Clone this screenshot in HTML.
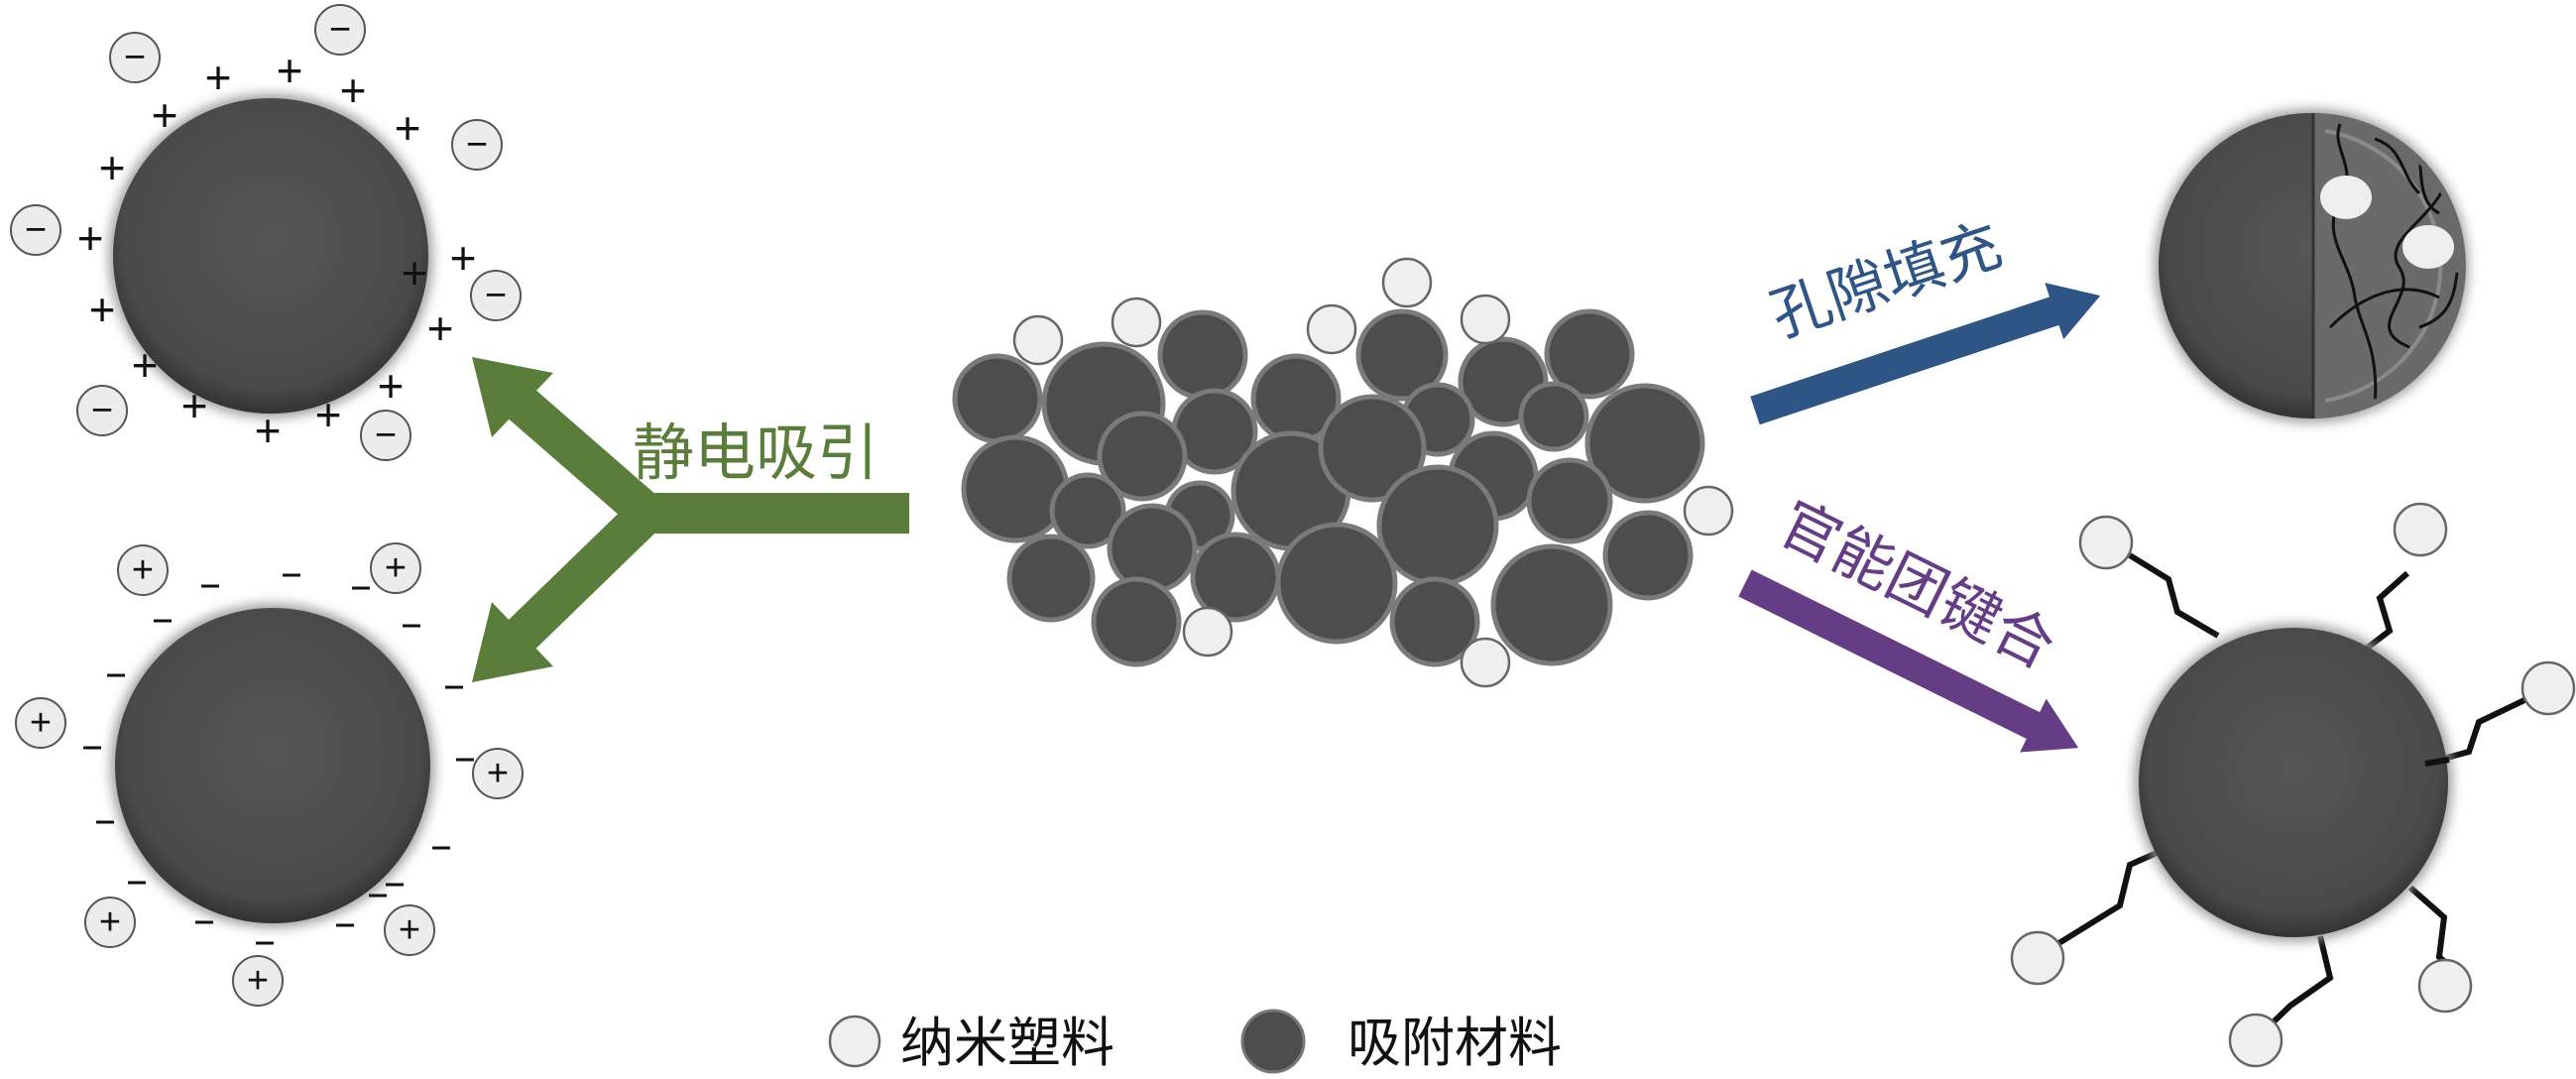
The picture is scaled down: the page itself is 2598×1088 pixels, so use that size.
<!DOCTYPE html>
<html><head><meta charset="utf-8"><style>
html,body{margin:0;padding:0;background:#fff;}
svg{display:block;}
text{font-family:"Liberation Sans","Noto Sans CJK SC",sans-serif;}
</style></head><body>
<svg width="2598" height="1088" viewBox="0 0 2598 1088" xmlns="http://www.w3.org/2000/svg">
<defs>
<radialGradient id="sph" cx="50%" cy="45%" r="55%">
<stop offset="0" stop-color="#565656"/><stop offset="0.85" stop-color="#4a4a4a"/><stop offset="1" stop-color="#333"/>
</radialGradient>
<filter id="glow" x="-20%" y="-20%" width="140%" height="140%"><feGaussianBlur stdDeviation="6"/></filter>
<clipPath id="rc"><path d="M2333,120 A148,148 0 0 1 2333,416 Z"/></clipPath>
</defs>

<!-- left spheres -->
<circle cx="273" cy="258" r="163" fill="#999" filter="url(#glow)"/>
<circle cx="273" cy="258" r="159" fill="url(#sph)"/>
<circle cx="275" cy="772" r="163" fill="#999" filter="url(#glow)"/>
<circle cx="275" cy="772" r="159" fill="url(#sph)"/>

<g font-size="46" fill="#111" text-anchor="middle" dominant-baseline="central">
<text x="166" y="116">+</text><text x="220" y="78">+</text><text x="292" y="71">+</text><text x="356" y="91">+</text><text x="411" y="129">+</text>
<text x="113" y="169">+</text><text x="91" y="240">+</text><text x="103" y="312">+</text><text x="146" y="368">+</text><text x="196" y="409">+</text>
<text x="270" y="434">+</text><text x="331" y="418">+</text><text x="394" y="389">+</text><text x="418" y="275">+</text><text x="467" y="260">+</text><text x="444" y="331">+</text>
</g>
<g fill="#ececec" stroke="#555" stroke-width="2">
<circle cx="136" cy="58" r="25"/><circle cx="343" cy="30" r="25"/><circle cx="481" cy="146" r="25"/><circle cx="36" cy="232" r="25"/>
<circle cx="500" cy="298" r="25"/><circle cx="103" cy="414" r="25"/><circle cx="389" cy="439" r="25"/>
<circle cx="144" cy="575" r="25"/><circle cx="399" cy="573" r="25"/><circle cx="41" cy="729" r="25"/><circle cx="502" cy="780" r="25"/>
<circle cx="111" cy="930" r="25"/><circle cx="413" cy="938" r="25"/><circle cx="260" cy="989" r="25"/>
</g>
<g font-size="38" fill="#111" text-anchor="middle" dominant-baseline="central">
<text x="136" y="58">−</text><text x="343" y="30">−</text><text x="481" y="146">−</text><text x="36" y="232">−</text>
<text x="500" y="298">−</text><text x="103" y="414">−</text><text x="389" y="439">−</text>
<text x="144" y="575">+</text><text x="399" y="573">+</text><text x="41" y="729">+</text><text x="502" y="780">+</text>
<text x="111" y="930">+</text><text x="413" y="938">+</text><text x="260" y="989">+</text>
</g>
<g stroke="#111" stroke-width="3">
<line x1="203" y1="591" x2="221" y2="591"/><line x1="285" y1="580" x2="303" y2="580"/><line x1="355" y1="593" x2="373" y2="593"/>
<line x1="155" y1="626" x2="173" y2="626"/><line x1="406" y1="631" x2="424" y2="631"/><line x1="108" y1="681" x2="126" y2="681"/>
<line x1="449" y1="693" x2="467" y2="693"/><line x1="84" y1="754" x2="102" y2="754"/><line x1="460" y1="766" x2="478" y2="766"/>
<line x1="97" y1="829" x2="115" y2="829"/><line x1="436" y1="855" x2="454" y2="855"/><line x1="129" y1="890" x2="147" y2="890"/>
<line x1="389" y1="892" x2="407" y2="892"/><line x1="197" y1="930" x2="215" y2="930"/><line x1="258" y1="951" x2="276" y2="951"/>
<line x1="339" y1="933" x2="357" y2="933"/><line x1="372" y1="903" x2="390" y2="903"/>
</g>

<!-- green Y arrow -->
<g fill="#5b7d3c">
<rect x="640" y="497" width="277" height="41"/>
<line x1="652" y1="517" x2="520" y2="402" stroke="#5b7d3c" stroke-width="40"/>
<line x1="652" y1="518" x2="520" y2="646" stroke="#5b7d3c" stroke-width="40"/>
<polygon points="476,360 558,376 496,441"/>
<polygon points="476,688 558,672 496,607"/>
</g>
<text x="638" y="478" font-size="62" fill="#5b7d3c">静电吸引</text>

<!-- cluster -->
<g fill="#4d4d4d" stroke="#7a7a7a" stroke-width="5">
<circle cx="1006" cy="402" r="43"/><circle cx="1113" cy="407" r="60"/><circle cx="1213" cy="358" r="43"/>
<circle cx="1225" cy="435" r="41"/><circle cx="1307" cy="402" r="43"/><circle cx="1414" cy="358" r="44"/>
<circle cx="1516" cy="385" r="43"/><circle cx="1603" cy="357" r="43"/><circle cx="1567" cy="420" r="33"/>
<circle cx="1450" cy="423" r="35"/><circle cx="1152" cy="460" r="43"/><circle cx="1024" cy="493" r="52"/>
<circle cx="1302" cy="495" r="58"/><circle cx="1384" cy="452" r="52"/><circle cx="1659" cy="447" r="58"/>
<circle cx="1097" cy="515" r="36"/><circle cx="1210" cy="520" r="33"/><circle cx="1506" cy="480" r="43"/>
<circle cx="1583" cy="505" r="41"/><circle cx="1450" cy="530" r="59"/><circle cx="1162" cy="553" r="43"/>
<circle cx="1060" cy="583" r="42"/><circle cx="1246" cy="582" r="43"/><circle cx="1662" cy="560" r="43"/>
<circle cx="1146" cy="627" r="43"/><circle cx="1348" cy="588" r="59"/><circle cx="1447" cy="627" r="43"/>
<circle cx="1565" cy="610" r="59"/>
</g>
<g fill="#efefef" stroke="#666" stroke-width="2.5">
<circle cx="1047" cy="343" r="24"/><circle cx="1146" cy="325" r="24"/><circle cx="1343" cy="332" r="24"/>
<circle cx="1419" cy="285" r="24"/><circle cx="1498" cy="322" r="24"/><circle cx="1723" cy="515" r="24"/>
<circle cx="1218" cy="637" r="24"/><circle cx="1498" cy="668" r="24"/>
</g>

<!-- blue arrow -->
<g transform="translate(1770,414) rotate(-18.4)" fill="#2f5486">
<rect x="0" y="-15" width="322" height="30"/><polygon points="318,-30 367,0 318,30"/>
</g>
<text transform="translate(1795,340) rotate(-18.4)" font-size="60" fill="#2f5486">孔隙填充</text>

<!-- purple arrow -->
<g transform="translate(1760,588) rotate(26.3)" fill="#653d85">
<rect x="0" y="-15" width="328" height="30"/><polygon points="324,-30 375,0 324,30"/>
</g>
<text transform="translate(1790,542) rotate(26.3)" font-size="60" fill="#653d85">官能团键合</text>

<!-- top right sphere -->
<circle cx="2331" cy="268" r="158" fill="#999" filter="url(#glow)"/>
<circle cx="2331" cy="268" r="154" fill="url(#sph)"/>
<path d="M2333,114 A154,154 0 0 1 2333,422 Z" fill="#6a6a6a"/>
<path d="M2345,132 A140,138 0 0 1 2345,404" fill="none" stroke="#8a8a8a" stroke-width="4"/>
<line x1="2333" y1="114" x2="2333" y2="422" stroke="#333" stroke-width="3"/>
<g fill="none" stroke="#111" stroke-width="3" clip-path="url(#rc)">
<path d="M2360,125 C2350,150 2380,170 2360,200 C2340,240 2370,260 2375,300 C2380,330 2400,350 2395,410"/>
<path d="M2395,140 C2425,150 2420,175 2440,195"/>
<path d="M2430,125 C2450,145 2430,200 2460,215"/>
<path d="M2470,175 C2460,220 2400,240 2420,270 C2440,300 2380,330 2430,350"/>
<path d="M2350,330 C2380,300 2420,280 2460,300"/>
<path d="M2440,330 C2470,320 2475,300 2478,275"/>
</g>
<ellipse cx="2366" cy="199" rx="26" ry="22" fill="#eee"/>
<ellipse cx="2449" cy="249" rx="26" ry="22" fill="#eee"/>

<!-- bottom right sphere -->
<g fill="none" stroke="#111" stroke-width="6" stroke-linejoin="miter">
<polyline points="2237,641 2196,617 2187,584 2148,560"/>
<polyline points="2380,659 2410,636 2400,603 2428,578"/>
<polyline points="2446,770 2490,758 2500,728 2546,706"/>
<polyline points="2191,853 2148,872 2138,913 2075,952"/>
<polyline points="2431,895 2465,925 2460,965 2466,970"/>
<polyline points="2340,944 2350,986 2310,1014 2285,1038"/>
</g>
<circle cx="2313" cy="789" r="160" fill="#999" filter="url(#glow)"/>
<circle cx="2313" cy="789" r="156" fill="url(#sph)"/>
<g stroke="#111" stroke-width="6">
<line x1="2446" y1="770" x2="2470" y2="766"/>
</g>
<g fill="#efefef" stroke="#666" stroke-width="2.5">
<circle cx="2124" cy="547" r="26"/><circle cx="2441" cy="534" r="26"/><circle cx="2570" cy="694" r="26"/>
<circle cx="2055" cy="966" r="26"/><circle cx="2466" cy="994" r="26"/><circle cx="2275" cy="1049" r="26"/>
</g>

<!-- legend -->
<circle cx="862" cy="1050" r="25" fill="#efefef" stroke="#666" stroke-width="2.5"/>
<text x="908" y="1070" font-size="54" fill="#111">纳米塑料</text>
<circle cx="1284" cy="1050" r="31" fill="#4d4d4d" stroke="#777" stroke-width="3"/>
<text x="1359" y="1070" font-size="54" fill="#111">吸附材料</text>
</svg>
</body></html>
